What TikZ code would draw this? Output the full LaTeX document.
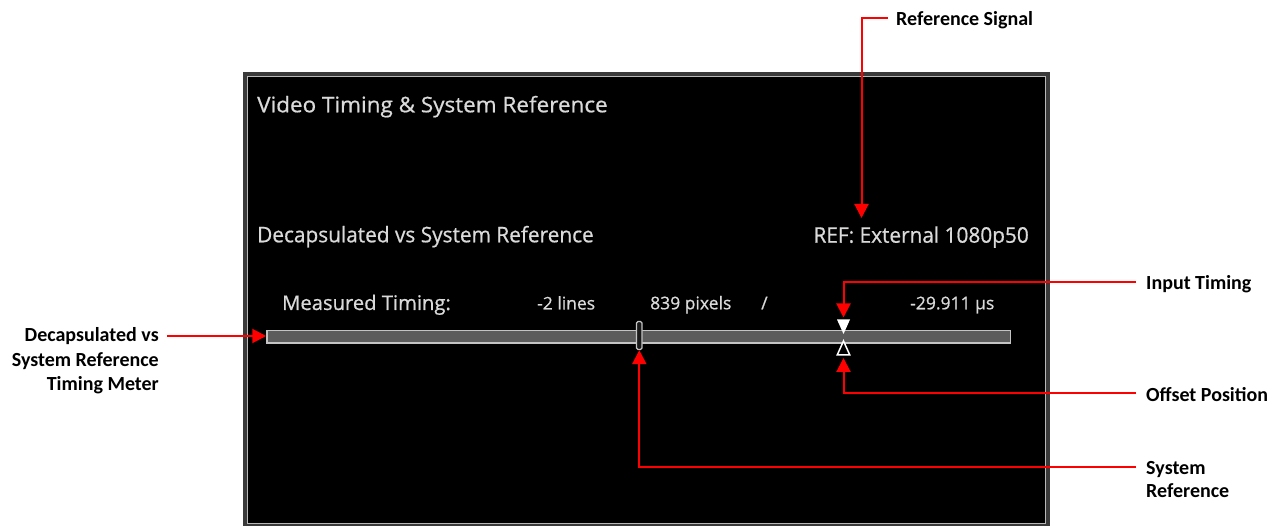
\documentclass[tikz,border=0pt]{standalone}
\usepackage{fontspec}
\setmainfont{Carlito}
\newfontfamily\scrfont[FakeBold=0.7]{Open Sans}
\usetikzlibrary{arrows.meta,calc}
\definecolor{scrtext}{HTML}{DADADA}
\definecolor{framedark}{HTML}{3A3A3A}
\definecolor{framelight}{HTML}{B8B8B8}
\definecolor{barfill}{HTML}{5C5C5C}
\definecolor{barline}{HTML}{C4C4C4}
\definecolor{arrowred}{HTML}{FF0000}
\begin{document}
\begin{tikzpicture}[x=1pt,y=-1pt,
  scrbig/.style={inner sep=0pt,text=scrtext,font=\scrfont\fontsize{21.5}{26}\selectfont},
  scrmid/.style={inner sep=0pt,text=scrtext,font=\scrfont\fontsize{20.2}{24}\selectfont},
  scrsmall/.style={inner sep=0pt,text=scrtext,font=\scrfont\fontsize{17.5}{21}\selectfont},
  callout/.style={inner sep=0pt,text=black,font=\bfseries\fontsize{20}{24}\selectfont},
  redarrow/.style={draw=arrowred,line width=2pt,-{Triangle[length=14pt,width=14pt]}},
  meterbar/.style={draw=barline,fill=barfill,line width=1.5pt,minimum width=743.5pt,minimum height=12.5pt,inner sep=0pt},
  markerbox/.style={draw=barline,fill=black!90,line width=1.3pt,minimum width=5.5pt,minimum height=28pt,inner sep=0pt,rounded corners=1.5pt}
]
\useasboundingbox (0,0) rectangle (1283,526);

% screen frame
\fill[framedark] (243,72) rectangle (1050,526);
\draw[framelight,line width=1.5pt] (247.5,76.5) rectangle (1045.5,523.5);
\fill[black] (248.3,77.3) rectangle (1044.7,522.7);

% screen texts
\node[scrbig,anchor=base west] (title) at (257,112.3) {\scalebox{1.045}[1]{Video Timing \& System Reference}};
\node[scrbig,anchor=base west] (decap) at (257,242.3) {\scalebox{0.968}[1]{Decapsulated vs System Reference}};
\node[scrbig,anchor=base east] (reftext) at (1029,242.7) {\scalebox{0.968}[1]{REF: External 1080p50}};
\node[scrmid,anchor=base west] (measured) at (282,310) {Measured Timing:};
\node[scrsmall,anchor=base west] (lines) at (537,309.5) {-2 lines};
\node[scrsmall,anchor=base west] (pixels) at (650,309.3) {839 pixels};
\node[scrsmall,anchor=base west] (slash) at (761,309.3) {/};
\node[scrsmall,anchor=base east] (usec) at (994.5,309.3) {-29.911 µs};

% meter
\node[meterbar] (meter) at (638.75,336.7) {};
\node[markerbox] (sysmark) at (639.3,335.5) {};
\fill[white] (837,319.5) -- (850,319.5) -- (843.5,334) -- cycle;
\draw[white,fill=black,line width=1.5pt,line join=miter] (843.5,341) -- (849.8,355) -- (837.2,355) -- cycle;
\coordinate (intip) at (843.5,317.5);
\coordinate (offtip) at (843.5,358);
\coordinate (reftip) at (861.5,218);

% callout labels (base anchor of a multi-line node = baseline of its last line)
\node[callout,anchor=base west] (refsig) at (896,26) {Reference Signal};
\node[callout,anchor=base west] (inputlbl) at (1146,290) {Input Timing};
\node[callout,anchor=base west] (offsetlbl) at (1146,401.5) {Offset Position};
\node[callout,anchor=base west,align=left,font=\bfseries\fontsize{20}{23}\selectfont] (syslbl) at (1146,497) {System\\Reference};
\node[callout,anchor=base east,align=right,font=\bfseries\fontsize{20}{24.5}\selectfont] (meterlbl) at (159,391) {Decapsulated vs\\System Reference\\Timing Meter};

% connectors
\coordinate (refstart) at ($(refsig.base west)+(-8,-7.5)$);
\draw[redarrow] (refstart) -| (reftip);
\coordinate (instart) at ($(inputlbl.base west)+(-10,-8)$);
\draw[redarrow] (instart) -| (intip);
\coordinate (offstart) at ($(offsetlbl.base west)+(-10,-8.5)$);
\draw[redarrow] (offstart) -| (offtip);
\coordinate (sysstart) at ($(syslbl.base west)+(-10,-29.5)$);
\draw[redarrow] (sysstart) -| (sysmark.south);
\coordinate (meterstart) at ($(meterlbl.base east)+(8,-55)$);
\draw[redarrow] (meterstart) -- (meterstart -| meter.west);
\end{tikzpicture}
\end{document}
